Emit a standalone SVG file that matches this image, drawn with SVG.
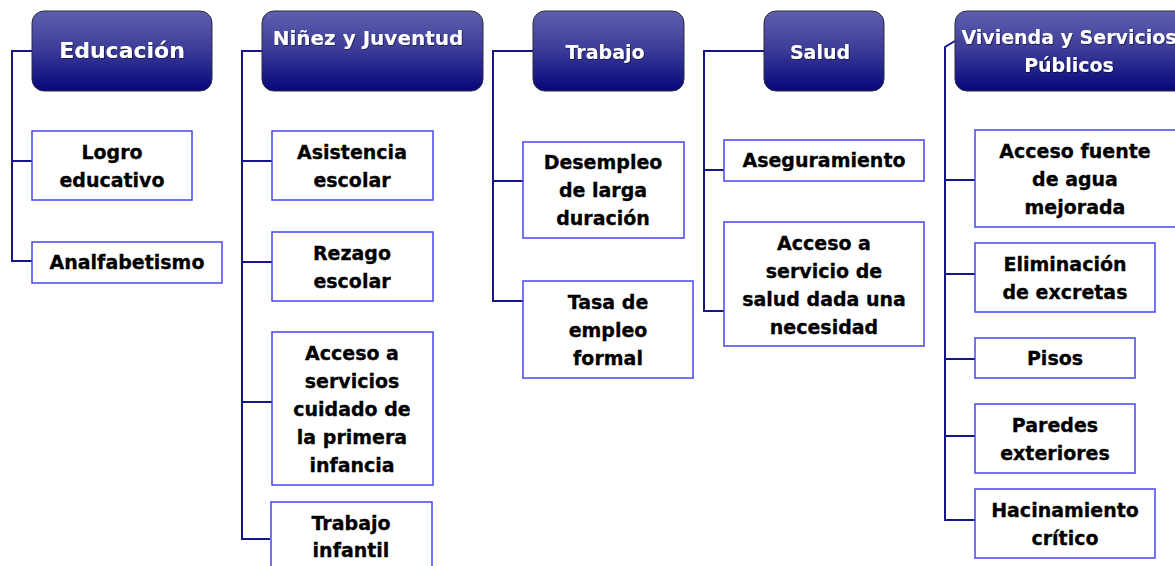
<svg xmlns="http://www.w3.org/2000/svg" width="1175" height="566" viewBox="0 0 1175 566">
<defs>
<linearGradient id="hg" x1="0" y1="0" x2="0" y2="1">
<stop offset="0" stop-color="#5f5fae"/>
<stop offset="0.45" stop-color="#3f3f9a"/>
<stop offset="1" stop-color="#06067a"/>
</linearGradient>
<filter id="ts" x="-10%" y="-10%" width="120%" height="130%">
<feDropShadow dx="0.8" dy="0.8" stdDeviation="0.6" flood-color="#000" flood-opacity="0.6"/>
</filter>
</defs>
<style>
.hd{fill:url(#hg);stroke:#2a2a3a;stroke-width:1}
.ht{fill:#fff;font-family:"DejaVu Sans",sans-serif;font-weight:bold;text-anchor:middle}
.bx{fill:#fff;stroke:#4646f0;stroke-width:1.5}
.bt{fill:#000;stroke:#000;stroke-width:0.3;font-family:"DejaVu Sans",sans-serif;font-weight:bold;font-size:19px;text-anchor:middle}
.cn{fill:none;stroke:#16168a;stroke-width:2}
</style>
<rect width="1175" height="566" fill="#fff"/>
<g id="connectors">
<path class="cn" d="M32 51H12V261H32M12 161H32"/>
<path class="cn" d="M262 51H242V539H270M242 161H272M242 262H272M242 402H272"/>
<path class="cn" d="M533 51H493V301H523M493 181H523"/>
<path class="cn" d="M764 51H704V311H724M704 170H724"/>
<path class="cn" d="M955 41L945 47V520H975M945 180H975M945 274H975M945 359H975M945 436H975"/>
</g>
<g id="h-educacion">
<rect class="hd" x="32" y="11" width="180" height="80" rx="12"/>
<text class="ht" x="122" y="58" font-size="22" filter="url(#ts)">Educación</text>
</g>
<g id="h-ninez">
<rect class="hd" x="262" y="11" width="221" height="80" rx="12"/>
<text class="ht" x="368" y="45" font-size="20" filter="url(#ts)">Niñez y Juventud</text>
</g>
<g id="h-trabajo">
<rect class="hd" x="533" y="11" width="151" height="80" rx="12"/>
<text class="ht" x="605" y="59" font-size="19" filter="url(#ts)">Trabajo</text>
</g>
<g id="h-salud">
<rect class="hd" x="764" y="11" width="120" height="80" rx="12"/>
<text class="ht" x="820" y="59" font-size="19" filter="url(#ts)">Salud</text>
</g>
<g id="h-vivienda">
<rect class="hd" x="955" y="11" width="232" height="80" rx="12"/>
<text class="ht" x="1069" y="44" font-size="19" filter="url(#ts)">Vivienda y Servicios</text>
<text class="ht" x="1069" y="72" font-size="19" filter="url(#ts)">Públicos</text>
</g>
<g id="n-logro">
<rect class="bx" x="32" y="131" width="160" height="69"/>
<text class="bt" x="112" y="159">Logro</text>
<text class="bt" x="112" y="187">educativo</text>
</g>
<g id="n-analfabetismo">
<rect class="bx" x="32" y="242" width="190" height="41"/>
<text class="bt" x="127" y="269">Analfabetismo</text>
</g>
<g id="n-asistencia">
<rect class="bx" x="272" y="131" width="161" height="69"/>
<text class="bt" x="352" y="159">Asistencia</text>
<text class="bt" x="352" y="187">escolar</text>
</g>
<g id="n-rezago">
<rect class="bx" x="272" y="232" width="161" height="69"/>
<text class="bt" x="352" y="260">Rezago</text>
<text class="bt" x="352" y="288">escolar</text>
</g>
<g id="n-acceso-cuidado">
<rect class="bx" x="272" y="332" width="161" height="153"/>
<text class="bt" x="352" y="360">Acceso a</text>
<text class="bt" x="352" y="388">servicios</text>
<text class="bt" x="352" y="416">cuidado de</text>
<text class="bt" x="352" y="444">la primera</text>
<text class="bt" x="352" y="472">infancia</text>
</g>
<g id="n-trabajo-infantil">
<rect class="bx" x="271" y="502" width="161" height="80"/>
<text class="bt" x="351" y="530">Trabajo</text>
<text class="bt" x="351" y="557">infantil</text>
</g>
<g id="n-desempleo">
<rect class="bx" x="523" y="142" width="161" height="96"/>
<text class="bt" x="603" y="169">Desempleo</text>
<text class="bt" x="603" y="197">de larga</text>
<text class="bt" x="603" y="225">duración</text>
</g>
<g id="n-tasa">
<rect class="bx" x="523" y="281" width="170" height="97"/>
<text class="bt" x="608" y="309">Tasa de</text>
<text class="bt" x="608" y="337">empleo</text>
<text class="bt" x="608" y="365">formal</text>
</g>
<g id="n-aseguramiento">
<rect class="bx" x="724" y="140" width="200" height="41"/>
<text class="bt" x="824" y="167">Aseguramiento</text>
</g>
<g id="n-acceso-salud">
<rect class="bx" x="724" y="222" width="200" height="124"/>
<text class="bt" x="824" y="250">Acceso a</text>
<text class="bt" x="824" y="278">servicio de</text>
<text class="bt" x="824" y="306">salud dada una</text>
<text class="bt" x="824" y="334">necesidad</text>
</g>
<g id="n-agua">
<rect class="bx" x="975" y="130" width="210" height="97"/>
<text class="bt" x="1075" y="158">Acceso fuente</text>
<text class="bt" x="1075" y="186">de agua</text>
<text class="bt" x="1075" y="214">mejorada</text>
</g>
<g id="n-excretas">
<rect class="bx" x="975" y="243" width="180" height="69"/>
<text class="bt" x="1065" y="271">Eliminación</text>
<text class="bt" x="1065" y="299">de excretas</text>
</g>
<g id="n-pisos">
<rect class="bx" x="975" y="338" width="160" height="40"/>
<text class="bt" x="1055" y="365">Pisos</text>
</g>
<g id="n-paredes">
<rect class="bx" x="975" y="404" width="160" height="69"/>
<text class="bt" x="1055" y="432">Paredes</text>
<text class="bt" x="1055" y="460">exteriores</text>
</g>
<g id="n-hacinamiento">
<rect class="bx" x="975" y="489" width="180" height="69"/>
<text class="bt" x="1065" y="517">Hacinamiento</text>
<text class="bt" x="1065" y="545">crítico</text>
</g>
</svg>
